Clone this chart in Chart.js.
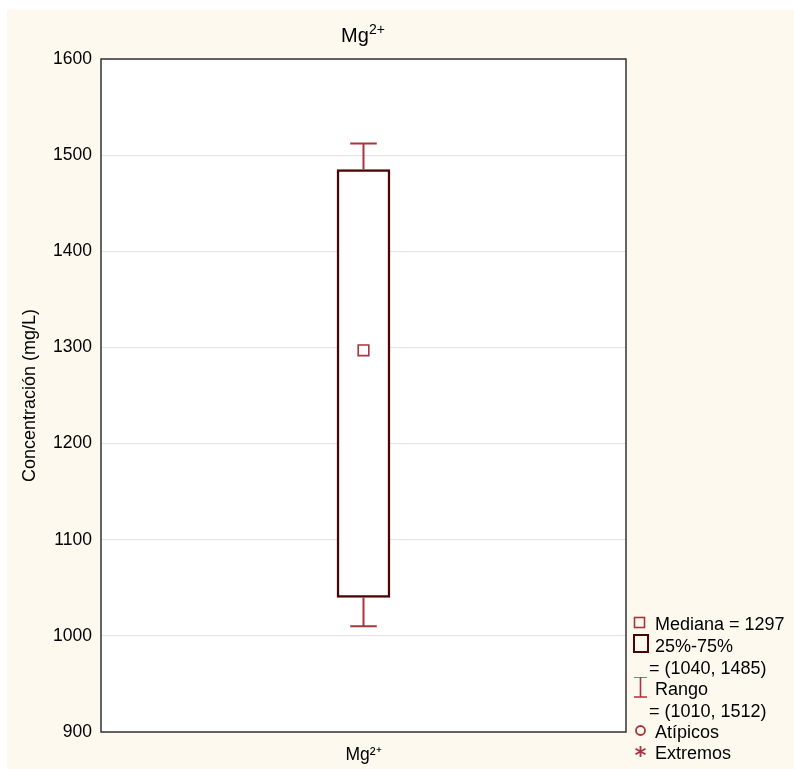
<!DOCTYPE html>
<html>
<head>
<meta charset="utf-8">
<script src="https://cdn.jsdelivr.net/npm/chart.js@4.4.0/dist/chart.umd.min.js"></script>
<style>
  body { margin: 0; background: #fff; font-family: Arial, "Liberation Sans", sans-serif; }
  #bg { position: absolute; left: 7px; top: 10px; right: 0; bottom: 0; background: #fdf9ef; }
  #wrap { position: absolute; left: 0; top: 0; width: 794px; height: 769px; }
  #title { position: absolute; left: 0; width: 726px; top: 25px; text-align: center; font-size: 20px; line-height: 20px; color: #000; }
  #title span { font-size: 14px; position: relative; top: -8px; }
  .row { position: absolute; left: 655px; font-size: 18px; line-height: 20px; color: #000; white-space: nowrap; }
  .sym { position: absolute; }
</style>
</head>
<body>
<div id="bg"></div>
<div id="wrap"><canvas id="chart" width="794" height="769"></canvas></div>
<div id="title">Mg<span>2+</span></div>
<div id="legend"></div>
<script>
const categories = ['Mg²⁺'];
const medians = [1297];
const q1s = [1040];
const q3s = [1485];
const mins = [1010];
const maxs = [1512];
const yMin = 900, yMax = 1600, yStep = 100;

const boxColor = '#4b0404';
const whiskerColor = '#a8343c';

// white plot area + frame
const plotBg = {
    id: 'plotBg',
    beforeDraw(chart) {
        const a = chart.chartArea, ctx = chart.ctx;
        ctx.save();
        ctx.fillStyle = '#ffffff';
        ctx.fillRect(a.left, a.top, a.right - a.left, a.bottom - a.top);
        ctx.restore();
    },
    afterDraw(chart) {
        const a = chart.chartArea, ctx = chart.ctx;
        ctx.save();
        ctx.strokeStyle = '#333';
        ctx.lineWidth = 1.5;
        ctx.strokeRect(a.left, a.top, a.right - a.left, a.bottom - a.top);
        ctx.restore();
    }
};

// whiskers from box to min / max
const whiskers = {
    id: 'whiskers',
    afterDatasetsDraw(chart) {
        const x = chart.scales.x, y = chart.scales.y, ctx = chart.ctx;
        const meta = chart.getDatasetMeta(0);
        ctx.save();
        ctx.strokeStyle = whiskerColor;
        ctx.lineWidth = 2;
        categories.forEach((c, i) => {
            const cx = x.getPixelForValue(i);
            const half = meta.data[i].width / 4;
            [[q3s[i], maxs[i]], [q1s[i], mins[i]]].forEach(([from, to]) => {
                const y0 = y.getPixelForValue(from), y1 = y.getPixelForValue(to);
                ctx.beginPath();
                ctx.moveTo(cx, y0);
                ctx.lineTo(cx, y1);
                ctx.moveTo(cx - half, y1);
                ctx.lineTo(cx + half, y1);
                ctx.stroke();
            });
        });
        ctx.restore();
    }
};

new Chart(document.getElementById('chart'), {
    type: 'bar',
    data: {
        labels: categories,
        datasets: [{
            data: categories.map((c, i) => [q1s[i], q3s[i]]),
            backgroundColor: '#ffffff',
            borderColor: boxColor,
            borderWidth: 2.5,
            borderSkipped: false,
            barThickness: 53,
            order: 2
        }, {
            type: 'line',
            data: medians,
            showLine: false,
            pointStyle: 'rect',
            pointRadius: 7.5,
            pointBorderWidth: 1.6,
            pointBorderColor: whiskerColor,
            pointBackgroundColor: '#ffffff',
            order: 1
        }]
    },
    options: {
        responsive: false,
        animation: false,
        layout: { padding: { left: 15, right: 168, top: 59, bottom: 0 } },
        plugins: { legend: { display: false }, tooltip: { enabled: false } },
        scales: {
            x: {
                grid: { display: false },
                border: { display: false },
                ticks: { color: '#000', font: { size: 17.5, family: 'Arial' }, padding: 5 },
                afterFit: s => { s.height = 37; }
            },
            y: {
                min: yMin,
                max: yMax,
                ticks: { stepSize: yStep, color: '#000', font: { size: 17.5, family: 'Arial' }, padding: 9, callback: v => String(v) },
                grid: { color: '#e2e2e2', drawTicks: false },
                border: { display: false },
                title: { display: true, text: 'Concentración (mg/L)', color: '#000', font: { size: 18, family: 'Arial' }, padding: { top: 4, bottom: 4 } },
                afterFit: s => { s.width = 86; }
            }
        }
    },
    plugins: [plotBg, whiskers]
});

// legend
const legendRows = [
    { text: `Mediana = ${medians[0]}`, base: 630, sym: 'median' },
    { text: '25%-75%', base: 652, sym: 'box' },
    { text: `= (${q1s[0]}, ${q3s[0]})`, base: 674, left: 649 },
    { text: 'Rango', base: 695, sym: 'range' },
    { text: `= (${mins[0]}, ${maxs[0]})`, base: 717, left: 649 },
    { text: 'Atípicos', base: 738, sym: 'outlier' },
    { text: 'Extremos', base: 759, sym: 'extreme' }
];
const symbols = {
    median: `<rect x="1.5" y="1.5" width="10" height="10" fill="none" stroke="${whiskerColor}" stroke-width="1.6"/>`,
    box: `<rect x="1" y="-3" width="14" height="17" fill="none" stroke="${boxColor}" stroke-width="2"/>`,
    range: `<path d="M1 -4 H14 M7.5 -4 V16 M1 16 H14" fill="none" stroke="${whiskerColor}" stroke-width="1.6"/>`,
    outlier: `<circle cx="7.5" cy="6.5" r="4.5" fill="none" stroke="${whiskerColor}" stroke-width="1.8"/>`,
    extreme: `<path d="M7.5 1 V12 M2.5 3.8 L12.5 9.2 M2.5 9.2 L12.5 3.8" fill="none" stroke="${whiskerColor}" stroke-width="1.8"/>`
};
const legend = document.getElementById('legend');
legendRows.forEach(r => {
    const d = document.createElement('div');
    d.className = 'row';
    d.style.top = (r.base - 16) + 'px';
    if (r.left) d.style.left = r.left + 'px';
    d.textContent = r.text;
    legend.appendChild(d);
    if (r.sym) {
        const s = document.createElementNS('http://www.w3.org/2000/svg', 'svg');
        s.setAttribute('class', 'sym');
        s.setAttribute('width', '16');
        s.setAttribute('height', '24');
        s.setAttribute('viewBox', '0 -4 16 24');
        s.style.left = '633px';
        s.style.top = (r.base - 18) + 'px';
        s.innerHTML = symbols[r.sym];
        legend.appendChild(s);
    }
});
</script>
</body>
</html>
